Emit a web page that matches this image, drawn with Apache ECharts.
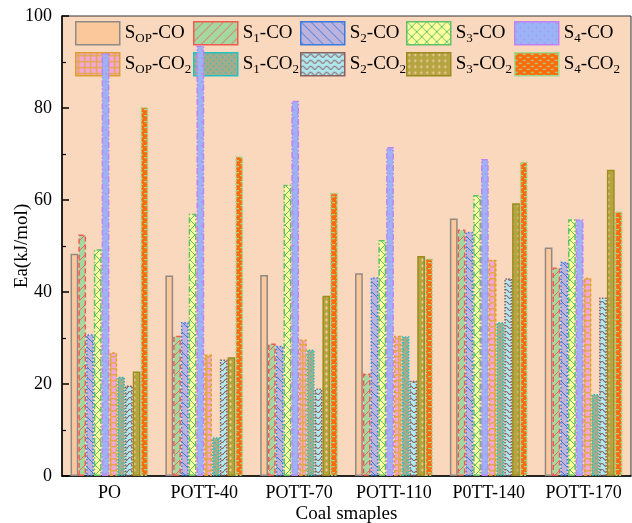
<!DOCTYPE html>
<html>
<head>
<meta charset="utf-8">
<script src="https://cdn.jsdelivr.net/npm/echarts@6/dist/echarts.min.js"></script>
<style>
html,body{margin:0;padding:0;background:#fff;}
#chart{width:632px;height:523px;}
</style>
</head>
<body>
<div id="chart"></div>
<script>
// ---- data ----
const categories = ['PO', 'POTT-40', 'POTT-70', 'POTT-110', 'P0TT-140', 'POTT-170'];
const seriesNames = ['SOP-CO', 'S1-CO', 'S2-CO', 'S3-CO', 'S4-CO', 'SOP-CO2', 'S1-CO2', 'S2-CO2', 'S3-CO2', 'S4-CO2'];
const sopCO  = [48.3, 43.6, 43.7, 44.1, 56.0, 49.7];
const s1CO   = [52.5, 30.5, 28.8, 22.3, 53.6, 45.3];
const s2CO   = [30.8, 33.5, 28.3, 43.2, 53.1, 46.6];
const s3CO   = [49.3, 57.0, 63.3, 51.3, 61.1, 55.8];
const s4CO   = [91.9, 93.6, 81.6, 71.5, 68.9, 55.8];
const sopCO2 = [26.9, 26.4, 29.7, 30.5, 47.0, 43.1];
const s1CO2  = [21.6, 8.4, 27.5, 30.4, 33.4, 17.8];
const s2CO2  = [19.7, 25.3, 19.0, 20.7, 43.0, 38.8];
const s3CO2  = [22.7, 25.8, 39.2, 47.8, 59.3, 66.6];
const s4CO2  = [80.2, 69.5, 61.6, 47.3, 68.3, 57.5];
const seriesValues = [sopCO, s1CO, s2CO, s3CO, s4CO, sopCO2, s1CO2, s2CO2, s3CO2, s4CO2];
const yTicks = [0, 20, 40, 60, 80, 100];

// ---- patterns ----
function pat(w, h, bg, draw) {
  const c = document.createElement('canvas');
  c.width = w; c.height = h;
  const g = c.getContext('2d');
  g.fillStyle = bg; g.fillRect(0, 0, w, h);
  if (draw) draw(g, w, h);
  return { image: c, repeat: 'repeat' };
}
function diag(g, w, h, color, dir, lw) {
  g.strokeStyle = color; g.lineWidth = lw || 1;
  g.beginPath();
  for (let k = -1; k <= 1; k++) {
    if (dir > 0) { g.moveTo(k * w, h); g.lineTo(k * w + w, 0); }
    else { g.moveTo(k * w, 0); g.lineTo(k * w + w, h); }
  }
  g.stroke();
}
const FONT = 'Liberation Serif, Times New Roman, serif';
const styles = [
  { fill: pat(8, 8, '#FBC89C'), border: '#8F8A86', type: 'solid' },
  { fill: pat(10, 10, '#A3D9A0', (g, w, h) => diag(g, w, h, '#F0645A', 1, 1)), border: '#F05A50', type: [5, 3] },
  { fill: pat(10, 10, '#BDB2DC', (g, w, h) => diag(g, w, h, '#3A7BE0', -1, 1)), border: '#3A7BE0', type: [1.5, 2] },
  { fill: pat(10, 10, '#FFFF9E', (g, w, h) => { diag(g, w, h, '#5FC06A', 1, 1); diag(g, w, h, '#5FC06A', -1, 1); }), border: '#5FC06A', type: [6, 2, 1.5, 2] },
  { fill: pat(8, 8, '#9BB4F6', (g) => { g.fillStyle = '#B98AF0'; g.fillRect(1, 1, 1.5, 1.5); g.fillRect(5, 5, 1.5, 1.5); }), border: '#C084F2', type: [6, 2, 1.5, 2] },
  { fill: pat(6, 6, '#F3A7D8', (g) => { g.fillStyle = '#E3A94A'; g.fillRect(0, 2, 6, 1.5); g.fillRect(2, 0, 1.5, 6); }), border: '#E0A030', type: [3, 2] },
  { fill: pat(6, 6, '#A9AA88', (g) => { g.fillStyle = '#2CC4C4'; g.fillRect(1, 1, 1.5, 1.5); g.fillRect(4, 4, 1.5, 1.5); }), border: '#22C2C2', type: [1.5, 1.5] },
  { fill: pat(8, 6, '#B0E8F0', (g) => { g.strokeStyle = '#8A6060'; g.lineWidth = 1.2; g.beginPath(); g.moveTo(0, 3); g.quadraticCurveTo(2, 0, 4, 3); g.quadraticCurveTo(6, 6, 8, 3); g.stroke(); }), border: '#8A6060', type: [1.5, 1.5] },
  { fill: pat(6, 6, '#B4A540', (g) => { g.fillStyle = '#F2C8A0'; g.fillRect(2, 0.5, 1, 3); g.fillRect(1, 1.5, 3, 1); }), border: '#9A8C1E', type: 'solid' },
  { fill: pat(8, 6, '#FF6A0A', (g) => { g.fillStyle = '#9FD68C'; g.fillRect(0, 1, 3, 1.2); g.fillRect(4, 4, 3, 1.2); }), border: '#A0D890', type: [2, 1.5] }
];

// ---- legend rich labels ----
const legendLabel = {
  'SOP-CO': '{n|S}{s|OP}{n|-CO}',
  'S1-CO': '{n|S}{s|1}{n|-CO}',
  'S2-CO': '{n|S}{s|2}{n|-CO}',
  'S3-CO': '{n|S}{s|3}{n|-CO}',
  'S4-CO': '{n|S}{s|4}{n|-CO}',
  'SOP-CO2': '{n|S}{s|OP}{n|-CO}{s|2}',
  'S1-CO2': '{n|S}{s|1}{n|-CO}{s|2}',
  'S2-CO2': '{n|S}{s|2}{n|-CO}{s|2}',
  'S3-CO2': '{n|S}{s|3}{n|-CO}{s|2}',
  'S4-CO2': '{n|S}{s|4}{n|-CO}{s|2}'
};
const legendX = [75, 193, 300, 406, 514];
const legendY = [21, 52];
const legends = seriesNames.map((name, i) => ({
  data: [name],
  left: legendX[i % 5],
  top: legendY[Math.floor(i / 5)],
  z: 1,
  icon: 'rect',
  itemWidth: 44,
  itemHeight: 23,
  itemGap: 0,
  padding: 0,
  itemStyle: { borderWidth: 1.5 },
  formatter: n => legendLabel[n],
  textStyle: {
    color: '#000',
    rich: {
      n: { fontSize: 19, fontFamily: FONT, color: '#000' },
      s: { fontSize: 13, fontFamily: FONT, color: '#000', padding: [10, 0, 0, 0] }
    }
  }
}));

const series = seriesNames.map((name, i) => ({
  name: name,
  type: 'bar',
  xAxisIndex: 0,
  z: 3,
  data: seriesValues[i],
  barGap: '0%',
  barCategoryGap: '18%',
  itemStyle: {
    color: styles[i].fill,
    borderColor: styles[i].border,
    borderWidth: 1.5,
    borderType: styles[i].type
  },
  emphasis: { disabled: true }
}));

const chart = echarts.init(document.getElementById('chart'), null, { renderer: 'canvas' });
chart.setOption({
  animation: false,
  backgroundColor: '#ffffff',
  grid: {
    left: 62, right: 1, top: 16, bottom: 47,
    outerBoundsMode: 'none',
    containLabel: false,
    show: true, backgroundColor: '#FAD8BE', borderColor: '#333', borderWidth: 1
  },
  legend: legends,
  xAxis: [{
    type: 'category',
    data: categories,
    name: 'Coal smaples',
    nameLocation: 'middle',
    nameGap: 29,
    nameMoveOverlap: false,
    nameTextStyle: { fontSize: 19, fontFamily: FONT, color: '#000' },
    axisLine: { lineStyle: { color: '#000', width: 1.5 } },
    axisTick: { inside: true, alignWithLabel: true, interval: 0, length: 8, lineStyle: { color: '#000', width: 2 } },
    axisLabel: { interval: 0, fontSize: 18, fontFamily: FONT, color: '#000', margin: 8 },
    splitLine: { show: false }
  }, {
    type: 'category',
    data: categories,
    position: 'bottom',
    axisLine: { show: false },
    axisTick: { inside: true, interval: 0, length: 4, lineStyle: { color: '#000', width: 1.5 } },
    axisLabel: { show: false },
    splitLine: { show: false }
  }],
  yAxis: {
    type: 'value',
    min: yTicks[0], max: yTicks[yTicks.length - 1], interval: 20,
    name: 'Ea(kJ/mol)',
    nameLocation: 'middle',
    nameGap: 30,
    nameMoveOverlap: false,
    nameTextStyle: { fontSize: 19, fontFamily: FONT, color: '#000' },
    axisLine: { show: true, lineStyle: { color: '#000', width: 1.5 } },
    axisTick: { show: true, inside: true, length: 7, lineStyle: { color: '#000', width: 1.5 } },
    minorTick: { show: true, splitNumber: 2, length: 4, lineStyle: { color: '#000', width: 1.2 } },
    axisLabel: { fontSize: 18, fontFamily: FONT, color: '#000', margin: 10 },
    splitLine: { show: false }
  },
  series: series
});
</script>
</body>
</html>
